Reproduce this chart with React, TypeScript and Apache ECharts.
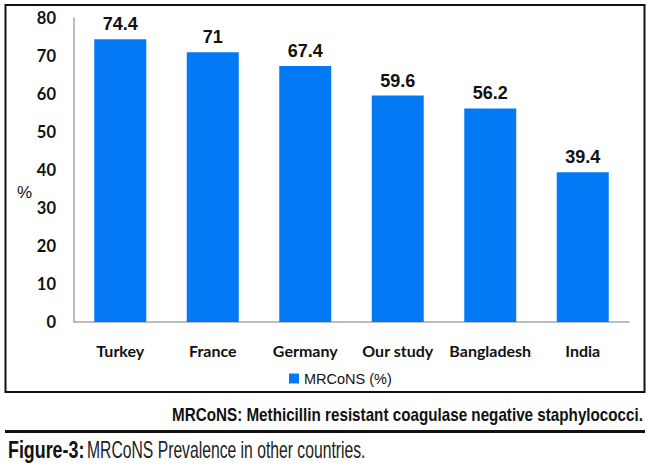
import React, { useEffect, useRef } from "react";
import * as echarts from "echarts";

const categories = ["Turkey", "France", "Germany", "Our study", "Bangladesh", "India"];
const values = [74.4, 71, 67.4, 59.6, 56.2, 39.4];
const seriesName = "MRCoNS (%)";
const yAxisName = "%";
const footnote = "MRCoNS: Methicillin resistant coagulase negative staphylococci.";
const captionBold = "Figure-3:";
const captionText = "MRCoNS Prevalence in other countries.";

export default function App() {
  const ref = useRef<HTMLDivElement>(null);
  useEffect(() => {
    if (!ref.current) return;
    const chart = echarts.init(ref.current, null, { renderer: "svg" });
    chart.setOption({
      animation: false,
      backgroundColor: "#ffffff",
      grid: { left: 74, right: 21, top: 18, bottom: 150, containLabel: false },
      legend: {
        data: [seriesName],
        left: 284,
        top: 366,
        icon: "rect",
        itemWidth: 10,
        itemHeight: 10,
        itemGap: 5,
        textStyle: { fontFamily: "Liberation Sans", fontSize: 14.5, color: "#111" },
      },
      xAxis: {
        type: "category",
        data: categories,
        axisLine: { show: true, lineStyle: { color: "#a6a6a6", width: 1.5 } },
        axisTick: { show: false },
        axisLabel: {
          fontFamily: "Lato",
          fontWeight: "bold",
          fontSize: 16,
          color: "#111",
          margin: 20,
          interval: 0,
        },
      },
      yAxis: {
        type: "value",
        min: 0,
        max: 80,
        interval: 10,
        axisLine: { show: true, lineStyle: { color: "#a6a6a6", width: 1.5 } },
        axisTick: { show: false },
        splitLine: { show: false },
        axisLabel: {
          fontFamily: "Lato",
          fontWeight: "bold",
          fontSize: 16.5,
          color: "#111",
          margin: 18,
        },
      },
      series: [
        {
          name: seriesName,
          type: "bar",
          data: values,
          barWidth: 52,
          itemStyle: { color: "#0479f5" },
          label: {
            show: true,
            position: "top",
            distance: 6,
            fontFamily: "Liberation Sans",
            fontWeight: "bold",
            fontSize: 18,
            color: "#111",
          },
        },
      ],
      graphic: [
        {
          type: "rect",
          shape: { x: 5.5, y: 5, width: 639, height: 387 },
          style: { fill: "none", stroke: "#111", lineWidth: 2 },
          silent: true,
        },
        {
          type: "text",
          x: 24.5,
          y: 192,
          style: {
            text: yAxisName,
            fontFamily: "Liberation Sans",
            fontSize: 17,
            fill: "#111",
            align: "center",
            verticalAlign: "middle",
          },
        },
        {
          type: "text",
          x: 643,
          y: 415,
          scaleX: 0.86,
          style: {
            text: footnote,
            fontFamily: "Liberation Sans",
            fontWeight: "bold",
            fontSize: 17.7,
            fill: "#111",
            align: "right",
            verticalAlign: "middle",
          },
        },
        {
          type: "line",
          shape: { x1: 5, y1: 431.5, x2: 645, y2: 431.5 },
          style: { stroke: "#111", lineWidth: 3 },
          silent: true,
        },
        {
          type: "text",
          x: 8,
          y: 450,
          scaleX: 0.776,
          style: {
            text: captionBold,
            fontFamily: "Liberation Sans",
            fontWeight: "bold",
            fontSize: 23,
            fill: "#111",
            align: "left",
            verticalAlign: "middle",
          },
        },
        {
          type: "text",
          x: 87,
          y: 450,
          scaleX: 0.683,
          style: {
            text: captionText,
            fontFamily: "Liberation Sans",
            fontSize: 23,
            fill: "#222",
            align: "left",
            verticalAlign: "middle",
          },
        },
      ],
    });
    return () => chart.dispose();
  }, []);
  return (
    <div style={{ position: "absolute", left: 0, top: 0, width: 650, height: 472, background: "#fff" }}>
      <div ref={ref} style={{ width: 650, height: 472 }} />
    </div>
  );
}
